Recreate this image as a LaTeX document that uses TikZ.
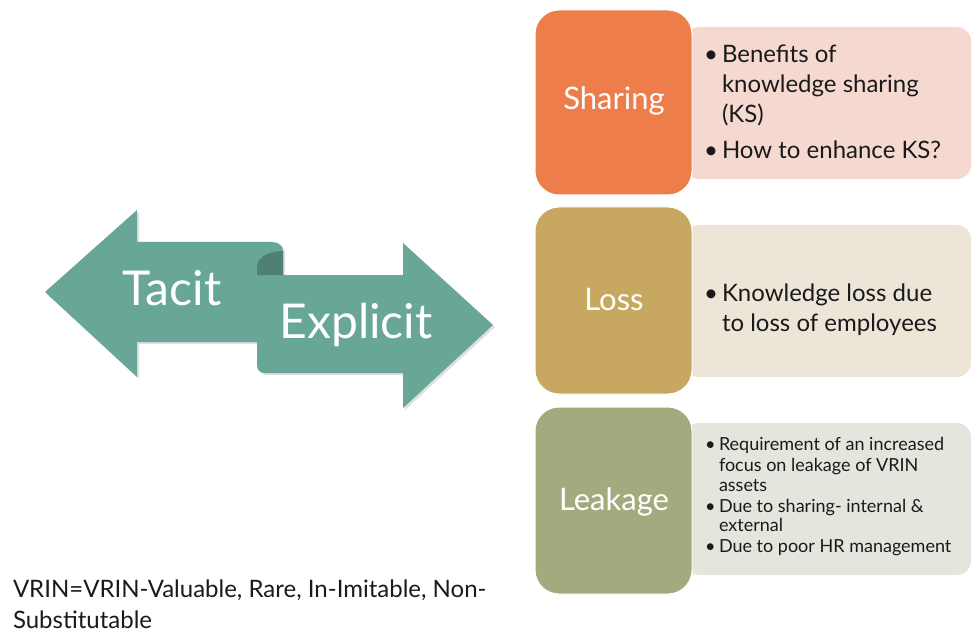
\documentclass[tikz,border=0pt]{standalone}
\usepackage{fontspec}
\setmainfont{Lato}
\usetikzlibrary{shadows}
\definecolor{c68a798}{RGB}{104,167,152}
\definecolor{c4e8073}{RGB}{78,128,115}
\definecolor{cd7ebe6}{RGB}{215,235,230}
\definecolor{ced7d4a}{RGB}{237,125,74}
\definecolor{cf5d9d0}{RGB}{245,217,208}
\definecolor{cc8a860}{RGB}{200,168,96}
\definecolor{cece5d8}{RGB}{236,229,216}
\definecolor{ca3ab7e}{RGB}{163,171,126}
\definecolor{ce5e5de}{RGB}{229,229,222}
\definecolor{c1a1a1a}{RGB}{26,26,26}

\begin{document}
\begin{tikzpicture}[y=1pt, x=1pt, yscale=-1, inner sep=0pt, outer sep=0pt]
\useasboundingbox (0,0) rectangle (972,639);
  \begin{scope}[line width=1.2pt, draw=cd7ebe6, line join=round]
    \path[fill=c68a798,drop shadow={opacity=0.25,shadow xshift=2pt,shadow yshift=-2pt}]
      (45,292) -- (137,210) -- (137,242) -- (272,242) .. controls (279,242) and
      (283,246) .. (283,251) -- (283,342) -- (137,342) -- (137,377) -- cycle;
    \path[fill=c68a798,drop shadow={opacity=0.25,shadow xshift=2pt,shadow yshift=-2pt}]
      (257,275) -- (403,275) -- (403,243) -- (493,325) -- (403,408) --
      (403,373) -- (265,373) .. controls (260,373) and (257,370) .. (257,365) --
      cycle;
    \path[fill=c4e8073] (283,251) .. controls (268,251) and (257,258) ..
      (257,266) -- (257,275) -- (283,275) -- cycle;
    \path (257,266) .. controls (257,272) and (262,275) .. (270,275);
  \end{scope}
  \path[fill=white] (172,305) node[anchor=base] (text3001)
    {\fontsize{48}{48}\selectfont\color{white}Tacit};
  \path[fill=white] (356,338) node[anchor=base] (text3003)
    {\fontsize{48}{48}\selectfont\color{white}Explicit};

  \path[fill=cf5d9d0,rounded corners=14pt] (685,27) rectangle (971,179);
  \path[fill=cece5d8,rounded corners=14pt] (685,225) rectangle (971,377);
  \path[fill=ce5e5de,rounded corners=14pt] (685,423) rectangle (971,575);
  \path[fill=ced7d4a,draw=white,line width=1pt,rounded corners=24pt] (535,10)
    rectangle (692,195);
  \path[fill=cc8a860,draw=white,line width=1pt,rounded corners=24pt] (535,207)
    rectangle (692,394);
  \path[fill=ca3ab7e,draw=white,line width=1pt,rounded corners=24pt] (535,407)
    rectangle (692,594);

  \begin{scope}[font=\fontsize{31}{31}\selectfont, text=white]
    \path (614,110) node[anchor=base] (text3101) {Sharing};
    \path (614,310) node[anchor=base] (text3103) {Loss};
    \path (614,510) node[anchor=base] (text3105) {Leakage};
  \end{scope}

  \begin{scope}[font=\fontsize{24}{24}\selectfont, text=c1a1a1a]
    \path (704,63) node[anchor=base west] (text3201) {•};
    \path (722,63) node[anchor=base west] (text3203) {Benefits of};
    \path (722,93) node[anchor=base west] (text3205) {knowledge sharing};
    \path (722,123) node[anchor=base west] (text3207) {(KS)};
    \path (704,159) node[anchor=base west] (text3209) {•};
    \path (722,159) node[anchor=base west] (text3211) {How to enhance KS?};
    \path (704,301) node[anchor=base west] (text3301) {•};
    \path (722,301) node[anchor=base west] (text3303) {Knowledge loss due};
    \path (722,331) node[anchor=base west] (text3305) {to loss of employees};
  \end{scope}

  \begin{scope}[font=\fontsize{18}{18}\selectfont, text=c1a1a1a]
    \path (705,450) node[anchor=base west] (text3401) {•};
    \path (719,450) node[anchor=base west] (text3403)
      {Requirement of an increased};
    \path (719,471) node[anchor=base west] (text3405) {focus on leakage of VRIN};
    \path (719,491) node[anchor=base west] (text3407) {assets};
    \path (705,512) node[anchor=base west] (text3409) {•};
    \path (719,512) node[anchor=base west] (text3411)
      {Due to sharing- internal \&};
    \path (719,531) node[anchor=base west] (text3413) {external};
    \path (705,552) node[anchor=base west] (text3415) {•};
    \path (719,552) node[anchor=base west] (text3417)
      {Due to poor HR management};
  \end{scope}

  \begin{scope}[font=\fontsize{24}{24}\selectfont, text=c1a1a1a]
    \path (13,597) node[anchor=base west] (text3501)
      {VRIN=VRIN-Valuable, Rare, In-Imitable, Non-};
    \path (13,628) node[anchor=base west] (text3503) {Substitutable};
  \end{scope}
\end{tikzpicture}
\end{document}
